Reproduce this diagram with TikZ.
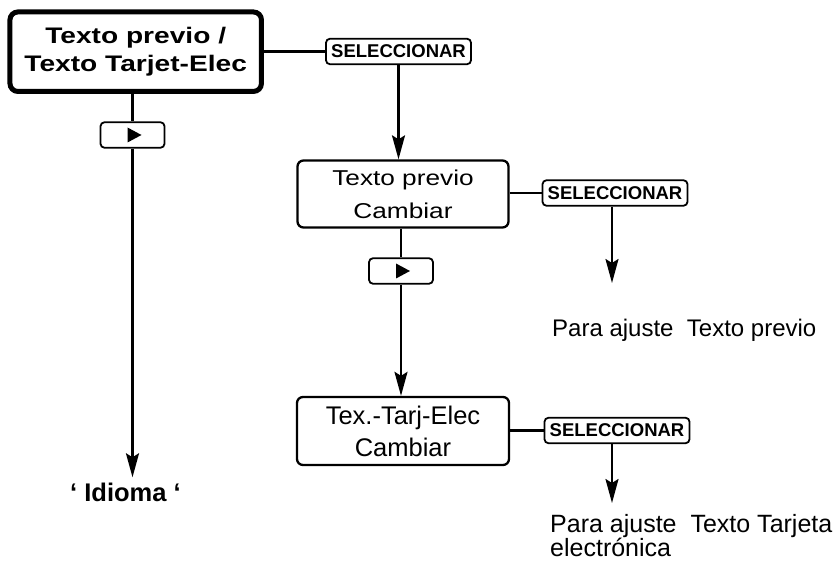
\documentclass[tikz,border=0pt]{standalone}
\usepackage{fontspec}
\setmainfont{Liberation Sans}
\newfontfamily\widesf[FakeStretch=1.22]{Liberation Sans}
\newfontfamily\widebf[FakeStretch=1.25]{Liberation Sans Bold}
\usepackage{tikz}
\usetikzlibrary{arrows.meta}
\definecolor{mnedge}{RGB}{0,0,0}
\tikzset{
  mnbox/.style={
    draw=mnedge, line width=2.3pt, rounded corners=6pt,
    align=center, inner sep=0pt
  },
  headbox/.style={mnbox, line width=5pt, rounded corners=8pt,
    font=\widebf\fontsize{22.5}{28}\selectfont},
  prevbox/.style={mnbox, font=\widesf\fontsize{21.5}{33}\selectfont},
  tarjbox/.style={mnbox, font=\fontsize{25.5}{32}\selectfont},
  selbox/.style={
    draw=mnedge, line width=1.8pt, rounded corners=4pt, inner sep=0pt,
    minimum width=145, minimum height=25.5,
    font=\bfseries\fontsize{18.5}{20}\selectfont
  },
  btn/.style={
    draw=mnedge, line width=1.8pt, rounded corners=4pt,
    minimum width=64, minimum height=25.5,
    path picture={\fill[mnedge, sharp corners]
      ([xshift=-5pt,yshift=7.5pt]path picture bounding box.center)
      -- ++(14pt,-7.5pt) -- ++(-14pt,-7.5pt) -- cycle;}
  },
  idlbl/.style={font=\bfseries\fontsize{25.5}{30}\selectfont, inner sep=6pt},
  ajlbl/.style={font=\fontsize{24}{25}\selectfont, inner sep=0pt, align=left},
  lnk/.style={draw=mnedge, line width=2.3pt},
  arr/.style={lnk, -{Stealth[length=24pt,width=13pt,inset=4pt]}}
}
\begin{document}
\begin{tikzpicture}[x=1pt,y=-1pt]
  \useasboundingbox (0,0) rectangle (839,561);
  % menu boxes
  \node[headbox, minimum width=251.5, minimum height=79.5] (main) at (135.7,51.7)
    {Texto previo /\\Texto Tarjet-Elec};
  \node[prevbox, minimum width=211, minimum height=67] (prev) at (403,194)
    {Texto previo\\Cambiar};
  \node[tarjbox, minimum width=212, minimum height=68] (tarj) at (403,431)
    {Tex.-Tarj-Elec\\Cambiar};
  % keys
  \node[selbox] (selA) at (398.5,51.5) {SELECCIONAR};
  \node[selbox] (selB) at (615,193) {SELECCIONAR};
  \node[selbox] (selC) at (617,430.5) {SELECCIONAR};
  \node[btn] (btnA) at (132.5,135) {};
  \node[btn] (btnB) at (401,271) {};
  % results
  \node[idlbl, anchor=base] (idioma) at (125.5,502) {‘ Idioma ‘};
  \node[ajlbl, anchor=base west] (ajB) at (552,337) {Para ajuste\ \ Texto previo};
  \node[ajlbl, anchor=north west, font=\fontsize{25}{24.5}\selectfont] (ajC) at (550,514)
    {Para ajuste\ \ Texto Tarjeta\\electrónica};
  \coordinate (tipB) at (612,283);
  \coordinate (tipC) at (612,503);

  \draw[lnk] (main.east |- selA) -- (selA.west);
  \draw[arr] (selA) -- (selA |- prev.north);
  \draw[lnk] (prev.east |- selB) -- (selB.west);
  \draw[arr] (tipB |- selB.south) -- (tipB);
  \draw[lnk] (main.south -| btnA) -- (btnA);
  \draw[arr] (btnA) -- (btnA |- idioma.north);
  \draw[lnk] (prev.south -| btnB) -- (btnB);
  \draw[arr] (btnB) -- (btnB |- tarj.north);
  \draw[lnk] (tarj.east |- selC) -- (selC.west);
  \draw[arr] (tipC |- selC.south) -- (tipC);
\end{tikzpicture}
\end{document}
